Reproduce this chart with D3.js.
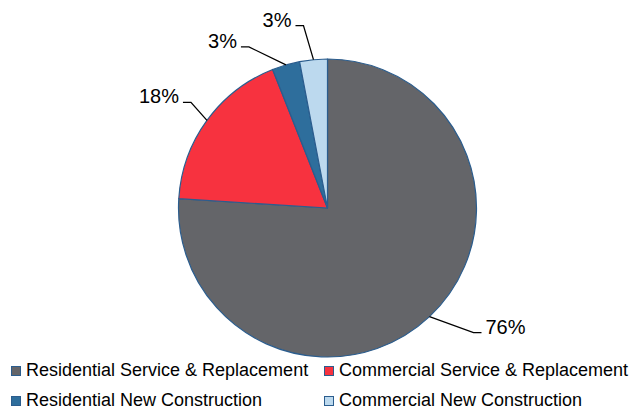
<!DOCTYPE html>
<html>
<head>
<meta charset="utf-8">
<script src="https://cdn.jsdelivr.net/npm/d3@7"></script>
<style>
  body { margin: 0; background: #fff; }
  svg text { font-family: "Liberation Sans", Arial, sans-serif; fill: #000; }
</style>
</head>
<body>
<div id="chart"></div>
<script>
// data
var categories = ["Residential Service & Replacement", "Commercial Service & Replacement",
                  "Residential New Construction", "Commercial New Construction"];
var shares = [76, 18, 3, 3];
var sliceColors = ["#646569", "#f7323f", "#2e6e9c", "#bcd9ee"];

var width = 634, height = 410;
var cx = 327.5, cy = 208, radius = 149;

// leader line elbow offsets from each slice's edge point (layout only)
var elbows = [[44, 16], [-16, -18], [-37, -18], [-10, -34]];

var svg = d3.select("#chart").append("svg")
    .attr("width", width)
    .attr("height", height);

var pie = d3.pie().sort(null).value(function (d) { return d; });
var arcs = pie(shares);
var arc = d3.arc().innerRadius(0).outerRadius(radius);

var g = svg.append("g").attr("transform", "translate(" + cx + "," + cy + ")");

g.selectAll("path.slice")
    .data(arcs)
    .enter().append("path")
    .attr("class", "slice")
    .attr("d", arc)
    .attr("fill", function (d, i) { return sliceColors[i]; })
    .attr("stroke", "#2b5d8e")
    .attr("stroke-width", 1.2)
    .attr("stroke-linejoin", "round");

// labels with leader lines
arcs.forEach(function (d, i) {
    var mid = (d.startAngle + d.endAngle) / 2;
    var ex = radius * Math.sin(mid), ey = -radius * Math.cos(mid);
    var bx = ex + elbows[i][0], by = ey + elbows[i][1];
    var dir = bx > 0 ? 1 : -1;
    var hx = bx + dir * 8;
    g.append("polyline")
        .attr("points", [[ex, ey], [bx, by], [hx, by]].map(function (p) { return p.join(","); }).join(" "))
        .attr("fill", "none")
        .attr("stroke", "#000")
        .attr("stroke-width", 1.3);
    g.append("text")
        .attr("x", hx + dir * 4)
        .attr("y", by + 1)
        .attr("text-anchor", dir > 0 ? "start" : "end")
        .attr("font-size", "20px")
        .text(shares[i] + "%");
});

// legend, two columns
var legendX = [11, 324], legendY = [371, 401];
var legend = svg.selectAll("g.legend")
    .data(categories)
    .enter().append("g")
    .attr("class", "legend")
    .attr("transform", function (d, i) {
        return "translate(" + legendX[i % 2] + "," + legendY[Math.floor(i / 2)] + ")";
    });

legend.append("rect")
    .attr("x", 0.5).attr("y", -4.5)
    .attr("width", 9).attr("height", 9)
    .attr("fill", function (d, i) { return sliceColors[i]; })
    .attr("stroke", "#2b5d8e")
    .attr("stroke-width", 1);

legend.append("text")
    .attr("x", 15)
    .attr("y", 5)
    .attr("font-size", "18px")
    .text(function (d) { return d; });
</script>
</body>
</html>
